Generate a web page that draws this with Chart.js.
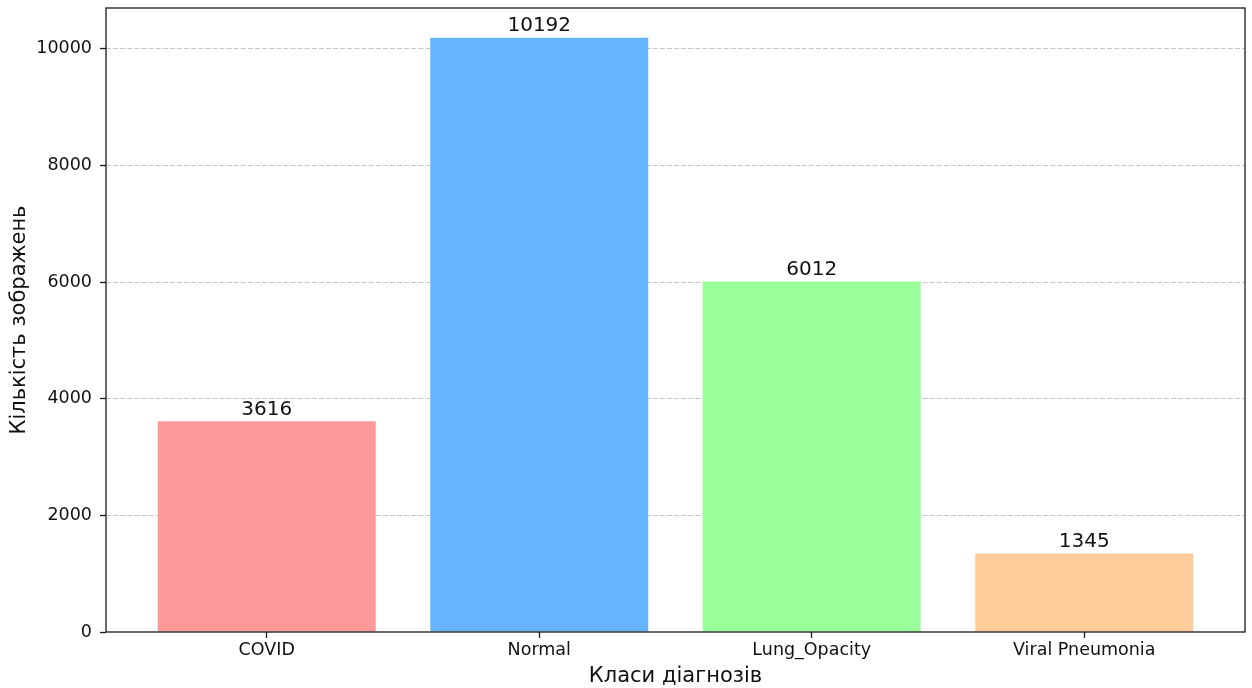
<!DOCTYPE html>
<html>
<head>
<meta charset="utf-8">
<script src="https://cdn.jsdelivr.net/npm/chart.js@4/dist/chart.umd.min.js"></script>
<style>
  html, body { margin: 0; padding: 0; background: #fff; }
  #wrap { width: 1252px; height: 688px; }
</style>
</head>
<body>
<div id="wrap"><canvas id="chart" width="1252" height="688"></canvas></div>
<script>
// Image counts per diagnosis class
const categories = ['COVID', 'Normal', 'Lung_Opacity', 'Viral Pneumonia'];
const counts = [3616, 10192, 6012, 1345];
const barColors = ['#ff9999', '#66b3ff', '#99ff99', '#ffcc99'];
const yTicks = [0, 2000, 4000, 6000, 8000, 10000];
const xTitle = 'Класи діагнозів';
const yTitle = 'Кількість зображень';

const FONT = "'DejaVu Sans', sans-serif";
const INK = '#111';

// Value printed above each bar
const valueLabels = {
  id: 'valueLabels',
  afterDatasetsDraw(chart) {
    const ctx = chart.ctx;
    const meta = chart.getDatasetMeta(0);
    ctx.save();
    ctx.font = '20px ' + FONT;
    ctx.fillStyle = INK;
    ctx.textAlign = 'center';
    ctx.textBaseline = 'alphabetic';
    meta.data.forEach((bar, i) => {
      ctx.fillText(String(counts[i]), bar.x, bar.y - 6.5);
    });
    ctx.restore();
  }
};

// Box around the plotting area
const frame = {
  id: 'frame',
  afterDraw(chart) {
    const a = chart.chartArea;
    const ctx = chart.ctx;
    ctx.save();
    ctx.strokeStyle = '#1a1a1a';
    ctx.lineWidth = 1.3;
    ctx.strokeRect(a.left, a.top, a.right - a.left, a.bottom - a.top);
    ctx.restore();
  }
};

new Chart(document.getElementById('chart'), {
  type: 'bar',
  data: {
    datasets: [{
      data: counts.map((v, i) => ({ x: i, y: v })),
      backgroundColor: barColors,
      borderWidth: 0,
      categoryPercentage: 1.0,
      barPercentage: 0.8
    }]
  },
  options: {
    responsive: false,
    devicePixelRatio: 1,
    animation: false,
    layout: { padding: { top: 8, right: 7, left: 0, bottom: 0 } },
    plugins: {
      legend: { display: false },
      tooltip: { enabled: false }
    },
    scales: {
      x: {
        type: 'linear',
        min: -0.59,
        max: 3.59,
        offset: false,
        z: 1,
        afterBuildTicks(scale) {
          scale.ticks = categories.map((_, i) => ({ value: i }));
        },
        afterFit(scale) {
          scale.height = 56;
          scale.paddingLeft = 0;
          scale.paddingRight = 0;
        },
        border: { display: false },
        grid: {
          display: true,
          offset: false,
          drawOnChartArea: false,
          drawTicks: true,
          tickLength: 6,
          tickColor: '#1a1a1a',
          tickWidth: 1.3
        },
        ticks: {
          autoSkip: false,
          maxRotation: 0,
          padding: 1.5,
          color: INK,
          font: { family: FONT, size: 17.5, lineHeight: 1.2 },
          callback: (v) => categories[v] ?? ''
        },
        title: {
          display: true,
          text: xTitle,
          color: INK,
          font: { family: FONT, size: 21, lineHeight: 1 },
          padding: { top: 0, bottom: 0.5 }
        }
      },
      y: {
        type: 'linear',
        min: 0,
        max: 10701.6,
        z: 1,
        afterBuildTicks(scale) {
          scale.ticks = yTicks.map(v => ({ value: v }));
        },
        afterFit(scale) {
          scale.width = 106;
          scale.paddingTop = 0;
          scale.paddingBottom = 0;
        },
        border: { display: false, dash: [5, 2.1] },
        grid: {
          display: true,
          drawOnChartArea: true,
          drawTicks: true,
          tickLength: 6,
          color: (c) => (c.tick && c.tick.value === 0) ? 'rgba(0,0,0,0)' : 'rgba(176,176,176,0.7)',
          lineWidth: 1,
          tickColor: '#1a1a1a',
          tickWidth: 1.3,
          tickBorderDash: []
        },
        ticks: {
          padding: 8,
          color: INK,
          font: { family: FONT, size: 17.5 },
          callback: (v) => String(v)
        },
        title: {
          display: true,
          text: yTitle,
          color: INK,
          font: { family: FONT, size: 21, lineHeight: 1 },
          padding: { top: 9, bottom: 0 }
        }
      }
    }
  },
  plugins: [valueLabels, frame]
});
</script>
</body>
</html>
